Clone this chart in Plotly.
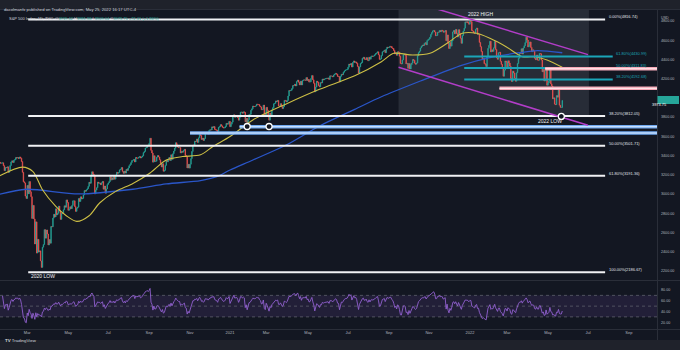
import numpy as np
import pandas as pd
import plotly.graph_objects as go

W, H = 680, 350

# S&P 500 daily closes, 2 Jan 2020 - 23 May 2022 (one row per month)
closes = [
    3257.85, 3234.85, 3246.28, 3237.18, 3253.05, 3274.70, 3265.35, 3288.13, 3283.15, 3289.29, 3316.81, 3329.62, 3320.79, 3321.75, 3325.54, 3295.47, 3243.63, 3276.24, 3273.40, 3283.66, 3225.52,
    3248.92, 3297.59, 3334.69, 3345.78, 3327.71, 3352.09, 3357.75, 3379.45, 3373.94, 3380.16, 3370.29, 3386.15, 3373.23, 3337.75, 3225.89, 3128.21, 3116.39, 2978.76, 2954.22,
    3090.23, 3003.37, 3130.12, 3023.94, 2972.37, 2746.56, 2882.23, 2741.38, 2480.64, 2711.02, 2386.13, 2529.19, 2398.10, 2409.39, 2304.92, 2237.40, 2447.33, 2475.56, 2630.07, 2541.47, 2626.65, 2584.59,
    2470.50, 2526.90, 2488.65, 2663.68, 2659.41, 2749.98, 2789.82, 2761.63, 2846.06, 2783.36, 2799.55, 2874.56, 2823.16, 2736.56, 2799.31, 2797.80, 2836.74, 2878.48, 2863.39, 2939.51, 2912.43,
    2830.71, 2842.74, 2868.44, 2848.42, 2881.19, 2929.80, 2930.32, 2870.12, 2820.00, 2852.50, 2863.70, 2953.91, 2922.94, 2971.61, 2948.51, 2955.45, 2991.77, 3036.13, 3029.73, 3044.31,
    3055.73, 3080.82, 3122.87, 3112.35, 3193.93, 3232.39, 3207.18, 3190.14, 3002.10, 3041.31, 3066.59, 3124.74, 3113.49, 3115.34, 3097.74, 3117.86, 3131.29, 3050.33, 3083.76, 3009.05, 3053.24, 3100.29,
    3115.86, 3130.01, 3179.72, 3145.32, 3169.94, 3152.05, 3185.04, 3155.22, 3197.52, 3226.56, 3215.57, 3224.73, 3251.84, 3257.30, 3276.02, 3235.66, 3215.63, 3239.41, 3218.44, 3258.44, 3246.22, 3271.12,
    3294.61, 3306.51, 3327.77, 3349.16, 3351.28, 3360.47, 3333.69, 3380.35, 3373.43, 3372.85, 3381.99, 3389.78, 3374.85, 3385.51, 3397.16, 3431.28, 3443.62, 3478.73, 3484.55, 3508.01, 3500.31,
    3526.65, 3580.84, 3455.06, 3426.96, 3331.84, 3398.96, 3339.19, 3340.97, 3383.54, 3401.20, 3385.49, 3357.01, 3319.47, 3281.06, 3315.57, 3236.92, 3246.59, 3298.46, 3351.60, 3335.47, 3363.00,
    3380.80, 3348.42, 3408.60, 3360.97, 3419.44, 3446.83, 3477.14, 3534.22, 3511.93, 3488.67, 3483.34, 3483.81, 3426.92, 3443.12, 3435.56, 3453.49, 3465.39, 3400.97, 3390.68, 3271.03, 3310.11, 3269.96,
    3310.24, 3369.16, 3443.44, 3510.45, 3509.44, 3550.50, 3545.53, 3572.66, 3537.01, 3585.15, 3626.91, 3609.53, 3567.79, 3581.87, 3557.54, 3577.59, 3635.41, 3629.65, 3638.35, 3621.63,
    3662.45, 3669.01, 3666.72, 3699.12, 3691.96, 3702.25, 3672.82, 3668.10, 3663.46, 3647.49, 3694.62, 3701.17, 3722.48, 3709.41, 3694.92, 3687.26, 3690.01, 3703.06, 3735.36, 3727.04, 3732.04, 3756.07,
    3700.65, 3726.86, 3748.14, 3803.79, 3824.68, 3799.61, 3801.19, 3809.84, 3795.54, 3768.25, 3798.91, 3851.85, 3853.07, 3841.47, 3855.36, 3849.62, 3750.77, 3787.38, 3714.24,
    3773.86, 3826.31, 3830.17, 3871.74, 3886.83, 3915.59, 3911.23, 3909.88, 3916.38, 3934.83, 3932.59, 3931.33, 3913.97, 3906.71, 3876.50, 3881.37, 3925.43, 3829.34, 3811.15,
    3901.82, 3870.29, 3819.72, 3768.47, 3841.94, 3821.35, 3875.44, 3898.81, 3939.34, 3943.34, 3968.94, 3962.71, 3974.12, 3915.46, 3913.10, 3940.59, 3910.52, 3889.14, 3909.52, 3974.54, 3971.09, 3958.55, 3972.89,
    4019.87, 4077.91, 4073.94, 4079.95, 4097.17, 4128.80, 4127.99, 4141.59, 4124.66, 4170.42, 4185.47, 4163.26, 4134.94, 4173.42, 4134.98, 4180.17, 4187.62, 4186.72, 4183.18, 4211.47, 4181.17,
    4192.66, 4164.66, 4167.59, 4201.62, 4232.60, 4188.43, 4152.10, 4063.04, 4112.50, 4173.85, 4163.29, 4127.83, 4115.68, 4159.12, 4155.86, 4197.05, 4188.13, 4195.99, 4200.88, 4204.11,
    4202.04, 4208.12, 4192.85, 4229.89, 4226.52, 4227.26, 4219.55, 4239.18, 4247.44, 4255.15, 4246.59, 4223.70, 4221.86, 4166.45, 4224.79, 4246.44, 4241.84, 4266.49, 4280.70, 4290.61, 4291.80, 4297.50,
    4319.94, 4352.34, 4343.54, 4358.13, 4320.82, 4369.55, 4384.63, 4369.21, 4374.30, 4360.03, 4327.16, 4258.49, 4323.06, 4358.69, 4367.48, 4411.79, 4422.30, 4401.46, 4400.64, 4419.15, 4395.26,
    4387.16, 4423.15, 4402.66, 4429.10, 4436.52, 4432.35, 4436.75, 4447.70, 4460.83, 4468.00, 4479.71, 4448.08, 4400.27, 4405.80, 4441.67, 4479.53, 4486.23, 4496.19, 4470.00, 4509.37, 4528.79, 4522.68,
    4524.09, 4536.95, 4535.43, 4520.03, 4514.07, 4493.28, 4458.58, 4468.73, 4443.05, 4480.70, 4473.75, 4432.99, 4357.73, 4354.19, 4395.64, 4448.98, 4455.48, 4443.11, 4352.63, 4359.46, 4307.54,
    4357.04, 4300.46, 4345.72, 4363.55, 4399.76, 4391.34, 4361.19, 4350.65, 4363.80, 4438.26, 4471.37, 4486.46, 4519.63, 4536.19, 4549.78, 4544.90, 4566.48, 4574.79, 4551.68, 4596.42, 4605.38,
    4613.67, 4630.65, 4660.57, 4680.06, 4697.53, 4701.70, 4685.25, 4646.71, 4649.27, 4682.85, 4682.80, 4700.90, 4688.67, 4704.54, 4697.96, 4682.94, 4690.70, 4701.46, 4594.62, 4655.27, 4567.00,
    4513.04, 4577.10, 4538.43, 4591.67, 4686.75, 4701.21, 4667.45, 4712.02, 4668.97, 4634.09, 4709.85, 4668.67, 4620.64, 4568.02, 4649.23, 4696.56, 4725.79, 4791.19, 4786.35, 4793.06, 4778.73, 4766.18,
    4796.56, 4793.54, 4700.58, 4696.05, 4677.03, 4670.29, 4713.07, 4726.35, 4659.03, 4662.85, 4577.11, 4532.76, 4482.73, 4397.94, 4410.13, 4356.45, 4349.93, 4326.51, 4431.85, 4515.55,
    4546.54, 4589.38, 4477.44, 4500.53, 4483.87, 4521.54, 4587.18, 4504.08, 4418.64, 4401.67, 4471.07, 4475.01, 4380.26, 4348.87, 4304.76, 4225.50, 4288.70, 4384.65, 4373.94,
    4306.26, 4386.54, 4363.49, 4328.87, 4201.09, 4170.70, 4277.88, 4259.52, 4204.31, 4173.11, 4262.45, 4357.86, 4411.67, 4463.12, 4461.18, 4511.61, 4456.24, 4520.16, 4543.06, 4575.52, 4631.60, 4602.45, 4530.41,
    4545.86, 4582.64, 4525.12, 4481.15, 4500.21, 4488.28, 4412.53, 4397.45, 4446.59, 4392.59, 4391.69, 4462.21, 4459.45, 4393.66, 4271.78, 4296.12, 4175.20, 4183.96, 4287.50, 4131.93,
    4155.38, 4175.48, 4300.17, 4146.87, 4123.34, 3991.24, 4001.05, 3935.18, 3930.08, 4023.89, 4008.01, 4088.85, 3923.68, 3900.79, 3901.36, 3973.75,
]

# Exchange holidays (sessions skipped on the time axis)
holidays = [
    "2020-01-20", "2020-02-17", "2020-04-10", "2020-05-25", "2020-07-03", "2020-09-07",
    "2020-11-26", "2020-12-25", "2021-01-01", "2021-01-18", "2021-02-15", "2021-04-02",
    "2021-05-31", "2021-07-05", "2021-09-06", "2021-11-25", "2021-12-24", "2022-01-17",
    "2022-02-21", "2022-04-15",
]
future_holidays = ["2022-05-30", "2022-06-20", "2022-07-04", "2022-09-05"]

# 50-day and 200-day simple moving averages
sma50_dates = ["2020-01-17", "2020-02-24", "2020-03-10", "2020-03-24", "2020-04-14", "2020-04-29",
               "2020-05-14", "2020-06-03", "2020-06-18", "2020-07-14", "2020-08-07", "2020-09-02",
               "2020-09-28", "2020-10-21", "2020-11-17", "2020-12-07", "2021-01-04", "2021-02-08",
               "2021-03-30", "2021-05-19", "2021-07-13", "2021-08-20", "2021-09-09", "2021-10-07",
               "2021-11-02", "2021-11-29", "2021-12-21", "2022-01-12", "2022-02-02", "2022-02-28",
               "2022-03-23", "2022-04-12", "2022-04-29", "2022-05-23"]
sma50_vals = [3191, 3280, 3234, 3045, 2872, 2775, 2716, 2775, 2907, 3028, 3110, 3219,
              3355, 3390, 3408, 3494, 3598, 3771, 3938, 4090, 4230, 4377, 4464, 4446,
              4464, 4568, 4672, 4672, 4620, 4533, 4429, 4429, 4394, 4318]

sma200_dates = ["2020-01-17", "2020-02-28", "2020-05-18", "2020-08-07", "2020-09-28", "2020-11-17",
                "2020-12-11", "2021-01-04", "2021-02-08", "2021-03-30", "2021-05-19", "2021-07-13",
                "2021-08-20", "2021-10-19", "2021-12-21", "2022-02-02", "2022-03-18", "2022-04-14",
                "2022-05-23"]
sma200_vals = [2998, 3050, 3001, 3050, 3105, 3140, 3181, 3250, 3354, 3510, 3708, 3881,
               4012, 4176, 4342, 4420, 4470, 4491, 4470]

# Fibonacci retracement, 2020 low -> 2022 high
fib_levels = ["0.00%", "38.20%", "50.00%", "61.80%", "100.00%"]
fib_prices = [4816.74, 3812.05, 3501.71, 3191.36, 2186.67]
# Fibonacci retracement of the 2022 decline
fib2_levels = ["61.80%", "50.00%", "38.20%"]
fib2_prices = [4430.99, 4311.83, 4192.68]

resistance_levels = [4303, 4100]
resistance_start = ["2022-04-27", "2022-02-16"]
support_levels = [3700, 3635]
support_start = ["2021-01-19", "2020-11-02"]

tick_dates = ["2020-03-02", "2020-05-01", "2020-07-01", "2020-09-01", "2020-11-02", "2021-01-04",
              "2021-03-01", "2021-05-03", "2021-07-01", "2021-09-01", "2021-11-01", "2022-01-03",
              "2022-03-01", "2022-05-02", "2022-07-01", "2022-09-01"]
tick_text = ["Mar", "May", "Jul", "Sep", "Nov", "2021", "Mar", "May", "Jul", "Sep", "Nov", "2022",
             "Mar", "May", "Jul", "Sep"]
price_ticks = list(range(2200, 4801, 200))
rsi_ticks = [20, 40, 60, 80]

# ---------------------------------------------------------------------------
dates = pd.bdate_range("2020-01-02", "2022-05-23")
dates = dates[~dates.isin(pd.to_datetime(holidays))]
if len(dates) != len(closes):
    raise ValueError(f"dates {len(dates)} vs closes {len(closes)}")

c = np.array(closes)
opens = np.concatenate([[c[0]], c[:-1]])      # each session opens at the prior close
highs = np.maximum(opens, c)
lows = np.minimum(opens, c)

# RSI(14), Wilder smoothing
n = 14
d = np.diff(c)
up = np.clip(d, 0, None)
dn = np.clip(-d, 0, None)
rsi = np.full(len(c), np.nan)
au, ad = up[:n].mean(), dn[:n].mean()
rsi[n] = 100 - 100 / (1 + au / ad)
for i in range(n + 1, len(c)):
    au = (au * (n - 1) + up[i - 1]) / n
    ad = (ad * (n - 1) + dn[i - 1]) / n
    rsi[i] = 100 - 100 / (1 + au / ad) if ad > 0 else 100

BG = "#131722"
TXT = "#b2b5be"
FONT = "Liberation Sans"
X0, X1 = "2020-01-17 09:00", "2022-10-13 12:00"
YMAIN = [2106.3, 4914.4]
YRSI = [7.5, 96.7]


def py(ypx):
    return 1 - ypx / H


fig = go.Figure()

# consolidation box around the 2022 decline
fig.add_shape(type="rect", xref="x", yref="y", x0="2021-09-16", x1="2022-07-05",
              y0=3807, y1=YMAIN[1], fillcolor="rgba(150,155,170,0.16)", line_width=0, layer="below")

# RSI band
fig.add_shape(type="rect", xref="x", yref="y2", x0=X0, x1=X1, y0=30, y1=70,
              fillcolor="rgba(126,87,194,0.14)", line_width=0, layer="below")
for lvl in (70, 50, 30):
    fig.add_trace(go.Scatter(x=[X0, X1], y=[lvl, lvl], mode="lines", yaxis="y2",
                             line=dict(color="#5d606b", width=0.8, dash="dot"), hoverinfo="skip"))

# moving averages
fig.add_trace(go.Scatter(x=sma200_dates, y=sma200_vals, mode="lines",
                         line=dict(color="#2a56c9", width=1.3, shape="spline", smoothing=0.8),
                         hoverinfo="skip"))
fig.add_trace(go.Scatter(x=sma50_dates, y=sma50_vals, mode="lines",
                         line=dict(color="#cdbf45", width=1.1, shape="spline", smoothing=0.8),
                         hoverinfo="skip"))

# candles
fig.add_trace(go.Candlestick(
    x=dates, open=opens, high=highs, low=lows, close=c,
    increasing=dict(line=dict(color="#26a69a", width=0.7), fillcolor="#26a69a"),
    decreasing=dict(line=dict(color="#ef5350", width=0.7), fillcolor="#ef5350"),
    whiskerwidth=0, hoverinfo="skip"))

# big fib lines
for lvl, p in zip(fib_levels, fib_prices):
    fig.add_trace(go.Scatter(x=["2020-03-03", "2022-07-28"], y=[p, p], mode="lines",
                             line=dict(color="#f0f1f4", width=2), hoverinfo="skip"))
    fig.add_annotation(x="2022-07-28", y=p, xref="x", yref="y", text=f"{lvl}({p:.2f})",
                       showarrow=False, xanchor="left", yanchor="middle", xshift=1.5, yshift=2.5,
                       font=dict(size=4, color="#e0e3eb"))

# fib of the 2022 decline
for lvl, p in zip(fib2_levels, fib2_prices):
    fig.add_trace(go.Scatter(x=["2021-12-23", "2022-08-09"], y=[p, p], mode="lines",
                             line=dict(color="#1ba5b8", width=2), hoverinfo="skip"))
    fig.add_annotation(x="2022-08-09", y=p, xref="x", yref="y", text=f"{lvl}({p:.2f})",
                       showarrow=False, xanchor="left", yanchor="middle", xshift=1.5, yshift=2.5,
                       font=dict(size=4, color="#1ba5b8"))

# horizontal resistance / support rays
for p, s in zip(resistance_levels, resistance_start):
    fig.add_trace(go.Scatter(x=[s, X1], y=[p, p], mode="lines",
                             line=dict(color="#f4a7b6", width=3.5), hoverinfo="skip"))
    fig.add_trace(go.Scatter(x=[s, X1], y=[p, p], mode="lines",
                             line=dict(color="#fff3f5", width=1), hoverinfo="skip"))
for p, s in zip(support_levels, support_start):
    fig.add_trace(go.Scatter(x=[s, X1], y=[p, p], mode="lines",
                             line=dict(color="#6fa8f0", width=3.5), hoverinfo="skip"))
    fig.add_trace(go.Scatter(x=[s, X1], y=[p, p], mode="lines",
                             line=dict(color="#eaf3ff", width=1), hoverinfo="skip"))

# descending channel
fig.add_trace(go.Scatter(x=["2021-11-01", "2022-07-01"], y=[4950, 4450], mode="lines",
                         line=dict(color="#b23dc8", width=1.5), hoverinfo="skip"))
fig.add_trace(go.Scatter(x=["2021-09-16", "2022-07-01"], y=[4318, 3715], mode="lines",
                         line=dict(color="#b23dc8", width=1.5), hoverinfo="skip"))

# touch points
fig.add_trace(go.Scatter(x=["2021-01-29", "2021-03-04", "2022-05-20"], y=[3703, 3703, 3808],
                         mode="markers", hoverinfo="skip",
                         marker=dict(size=6, color=BG, line=dict(color="#ffffff", width=1.3))))

# RSI line
fig.add_trace(go.Scatter(x=dates, y=rsi, mode="lines", yaxis="y2",
                         line=dict(color="#9160cf", width=0.9), hoverinfo="skip"))

# swing labels
for txt, xd, yp, xa in [("2022 HIGH", "2022-01-19", 4873, "center"),
                        ("2022 LOW", "2022-05-04", 3756, "center"),
                        ("2020 LOW", "2020-03-04", 2148, "left")]:
    fig.add_annotation(x=xd, y=yp, xref="x", yref="y", text=txt, showarrow=False,
                       xanchor=xa, yanchor="middle", font=dict(size=5, color="#f0f1f4"))

# frame: header strip, footer, pane dividers, price scale border
fig.add_shape(type="rect", xref="paper", yref="paper", x0=0, x1=1, y0=py(9), y1=1,
              fillcolor="#1f222b", line_width=0)
fig.add_shape(type="rect", xref="paper", yref="paper", x0=0, x1=1, y0=0, y1=py(340),
              fillcolor="#1f222b", line_width=0)
for ypx in (9.5, 280.5, 329.5):
    fig.add_shape(type="line", xref="paper", yref="paper", x0=0, x1=1, y0=py(ypx), y1=py(ypx),
                  line=dict(color="#2a2e39", width=1))
fig.add_shape(type="line", xref="paper", yref="paper", x0=657.5 / W, x1=657.5 / W,
              y0=py(340), y1=py(9.5), line=dict(color="#2a2e39", width=1))

# last price tag
fig.add_shape(type="rect", xref="paper", yref="paper", x0=657.5 / W, x1=679 / W,
              y0=py(104), y1=py(96), fillcolor="#26a69a", line_width=0)
fig.add_annotation(x=668 / W, y=py(100), xref="paper", yref="paper", text=f"{closes[-1]:.2f}",
                   showarrow=False, font=dict(size=3.9, color="#ffffff"))
fig.add_annotation(x=659 / W, y=py(14), xref="paper", yref="paper", text="USD", showarrow=False,
                   xanchor="left", font=dict(size=3.7, color=TXT))

# header and footer text
fig.add_annotation(x=2 / W, y=py(4.5), xref="paper", yref="paper", xanchor="left",
                   text="dacolmanfx published on TradingView.com, May 25, 2022 16:17 UTC-4",
                   showarrow=False, font=dict(size=4.2, color="#d1d4dc"))
teal = "#26a69a"
hdr = ("S&P 500 Index, 1D, TVC  "
       f"O<span style='color:{teal}'>3919.42</span> "
       f"H<span style='color:{teal}'>3981.88</span> "
       f"L<span style='color:{teal}'>3909.04</span> "
       f"C<span style='color:{teal}'>3973.75</span> "
       f"<span style='color:{teal}'>+72.41 (+1.86%)</span>")
fig.add_annotation(x=7 / W, y=py(14), xref="paper", yref="paper", xanchor="left", text=hdr,
                   showarrow=False, font=dict(size=4, color="#d1d4dc"))
fig.add_annotation(x=3 / W, y=py(345), xref="paper", yref="paper", xanchor="left",
                   text="<b>TV</b> TradingView", showarrow=False,
                   font=dict(size=4.4, color="#d1d4dc"))

fig.update_layout(
    width=W, height=H, margin=dict(l=0, r=0, t=0, b=0),
    paper_bgcolor=BG, plot_bgcolor=BG, showlegend=False,
    font=dict(family=FONT, color=TXT),
    xaxis=dict(domain=[0, 657 / W], range=[X0, X1], type="date", anchor="y2",
               rangebreaks=[dict(bounds=["sat", "mon"]), dict(values=holidays + future_holidays)],
               tickmode="array", tickvals=tick_dates, ticktext=tick_text,
               tickfont=dict(size=4, color=TXT), ticks="", showgrid=False, zeroline=False,
               showline=False, rangeslider=dict(visible=False), fixedrange=True),
    yaxis=dict(domain=[py(280), py(10)], range=YMAIN, side="right", anchor="x",
               tickmode="array", tickvals=price_ticks, ticktext=[f"{v:.2f}" for v in price_ticks],
               tickfont=dict(size=3.7, color=TXT), ticks="", ticklabelstandoff=3,
               showgrid=False, zeroline=False, showline=False, fixedrange=True),
    yaxis2=dict(domain=[py(329), py(281)], range=YRSI, side="right", anchor="x",
                tickmode="array", tickvals=rsi_ticks, ticktext=[f"{v:.2f}" for v in rsi_ticks],
                tickfont=dict(size=3.7, color=TXT), ticks="", ticklabelstandoff=3,
                showgrid=False, zeroline=False, showline=False, fixedrange=True),
)

fig.write_html("out.html", config={"displayModeBar": False})
